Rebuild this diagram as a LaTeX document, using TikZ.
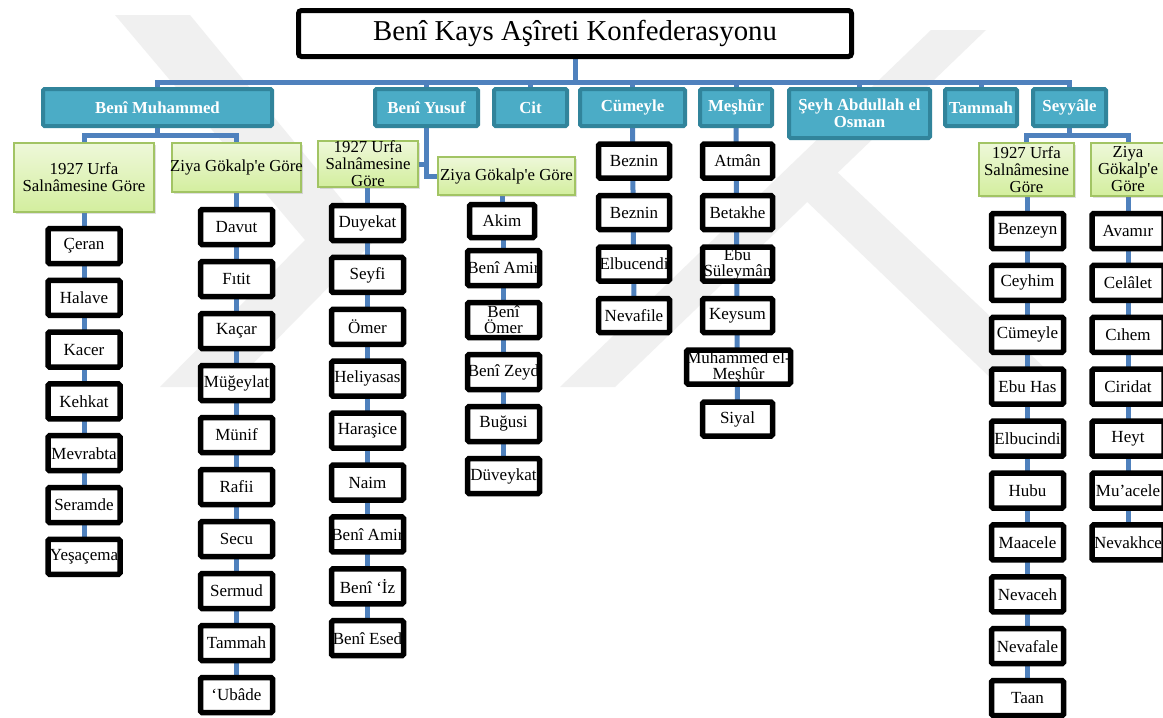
\documentclass[tikz,border=0pt]{standalone}
\usepackage{fontspec}
\setmainfont{Liberation Serif}
\newfontfamily\rawserif{Liberation Serif}
\newcommand\apos{{\rawserif'}}
\usetikzlibrary{shadows}
\pgfdeclarelayer{wmlayer}
\pgfdeclarelayer{connlayer}
\pgfsetlayers{wmlayer,connlayer,main}
\definecolor{conncol}{HTML}{4F81BD}
\definecolor{tealfill}{HTML}{4BACC6}
\definecolor{tealdraw}{HTML}{31849B}
\definecolor{greendraw}{HTML}{A2C464}
\definecolor{greentop}{HTML}{EEF8D9}
\definecolor{greenbot}{HTML}{D3EE9E}
\definecolor{wmgray}{HTML}{F0F0F0}
\tikzset{
  conn/.style={draw=conncol, line width=5pt, line join=miter},
  titlebox/.style={draw=black, line width=5pt, fill=white, rounded corners=3pt, inner sep=0pt},
  titleboxtxt/.style={font=\fontsize{28.8}{30}\selectfont, inner sep=0pt},
  tealbox/.style={draw=tealdraw, fill=tealfill, line width=4pt, rounded corners=1.5pt, inner sep=0pt,
     drop shadow={opacity=0.2, shadow xshift=1.5pt, shadow yshift=-1.5pt}},
  tealboxtxt/.style={font=\bfseries\fontsize{16.8}{17}\selectfont, text=white, align=center, inner sep=0pt},
  greenbox/.style={draw=greendraw, top color=greentop, bottom color=greenbot, line width=2pt, inner sep=0pt,
     drop shadow={opacity=0.25, shadow xshift=2pt, shadow yshift=-2pt}},
  greenboxtxt/.style={font=\fontsize{16.8}{17}\selectfont, align=center, inner sep=0pt},
  leafbox/.style={draw=black, fill=white, line width=5.5pt, rounded corners=1.5pt, inner sep=0pt,
     drop shadow={opacity=0.15, shadow xshift=1.5pt, shadow yshift=-1.5pt}},
  leafboxtxt/.style={font=\fontsize{17}{16}\selectfont, align=center, inner sep=0pt},
}
\newcommand\mkbox[7]{%
  \node[#1, minimum width=#5pt, minimum height=#6pt] (#2) at ({#3},{#4}) {};
  \node[#1txt] (#2t) at (#2.center) {#7};
}
\begin{document}
\begin{tikzpicture}[x=1pt,y=-1pt]
\begin{pgfonlayer}{wmlayer}
  \fill[white] (0,0) rectangle (1163,718);
  \fill[wmgray] (115,15) -- (190,15) -- (375,240) -- (230,387) -- (160,387) -- (305,240) -- cycle;
  \fill[wmgray] (560,387) -- (615,387) -- (986,30) -- (931,30) -- cycle;
  \fill[wmgray] (800,195) -- (835,170) -- (1065,387) -- (1000,387) -- cycle;
\end{pgfonlayer}
\useasboundingbox (0,0) rectangle (1163,718);

% title
\mkbox{titlebox}{title}{575}{33.5}{553}{46}{Benî Kays Aşîreti Konfederasyonu}

% level 1
\mkbox{tealbox}{bm}{157.5}{107.5}{229}{37}{Benî Muhammed}
\mkbox{tealbox}{by}{426.5}{107.5}{103}{37}{Benî Yusuf}
\mkbox{tealbox}{cit}{530.5}{107.5}{73}{37}{Cit}
\mkbox{tealbox}{cum}{632.5}{107.5}{105}{37}{Cümeyle}
\mkbox{tealbox}{mes}{736}{107.5}{72}{37}{Meşhûr}
\mkbox{tealbox}{seyh}{859.5}{113.5}{141}{49}{Şeyh Abdullah el\\Osman}
\mkbox{tealbox}{tam}{981}{107.5}{72}{37}{Tammah}
\mkbox{tealbox}{sey}{1069.5}{107.5}{73}{37}{Seyyâle}

% level 2
\mkbox{greenbox}{bmU}{84}{177.5}{140}{69}{1927 Urfa\\Salnâmesine Göre}
\mkbox{greenbox}{bmZ}{236.5}{167.5}{129}{49}{Ziya Gökalp\apos e Göre}
\mkbox{greenbox}{byU}{368}{164}{100}{46}{1927 Urfa\\Salnâmesine\\Göre}
\mkbox{greenbox}{byZ}{506.5}{176}{137}{38}{Ziya Gökalp\apos e Göre}
\mkbox{greenbox}{seyU}{1026.5}{169.5}{95}{53}{1927 Urfa\\Salnâmesine\\Göre}
\mkbox{greenbox}{seyZ}{1128}{169.5}{74}{53}{Ziya\\Gökalp\apos e\\Göre}

% leaves
\foreach \t [count=\i] in {Çeran,Halave,Kacer,Kehkat,Mevrabta,Seramde,Yeşaçema}
  {\mkbox{leafbox}{bmU-\i}{84}{246+51.8*(\i-1)}{72}{35}{\t}}
\foreach \t [count=\i] in {Davut,Fıtit,Kaçar,Müğeylat,Münif,Rafii,Secu,Sermud,Tammah,‘Ubâde}
  {\mkbox{leafbox}{bmZ-\i}{236.5}{227+52*(\i-1)}{72}{35}{\t}}
\foreach \t [count=\i] in {Duyekat,Seyfi,Ömer,Heliyasas,Haraşice,Naim,Benî Amir,Benî ‘İz,Benî Esed}
  {\mkbox{leafbox}{byU-\i}{367.5}{223+51.9*(\i-1)}{72}{35}{\t}}
\mkbox{leafbox}{byZ-1}{502}{221}{65}{33}{Akim}
\foreach \t [count=\i from 2] in {Benî Amir,{Benî\\Ömer},Benî Zeyd,Buğusi,Düveykat}
  {\mkbox{leafbox}{byZ-\i}{503.5}{268+52*(\i-2)}{72}{35}{\t}}
\foreach \t [count=\i] in {Beznin,Beznin,Elbucendi,Nevafile}
  {\mkbox{leafbox}{cum-\i}{634}{161+51.5*(\i-1)}{71}{34}{\t}}
\mkbox{leafbox}{mes-1}{737.5}{161}{70}{34}{Atmân}
\mkbox{leafbox}{mes-2}{737.5}{212.5}{70}{34}{Betakhe}
\mkbox{leafbox}{mes-3}{737.5}{264}{70}{34}{Ebu\\Süleymân}
\mkbox{leafbox}{mes-4}{737.5}{315.5}{70}{34}{Keysum}
\mkbox{leafbox}{mes-5}{738.5}{367}{104}{34}{Muhammed el-\\Meşhûr}
\mkbox{leafbox}{mes-6}{737.5}{419}{70}{34}{Siyal}
\foreach \t [count=\i] in {Benzeyn,Ceyhim,Cümeyle,Ebu Has,Elbucindi,Hubu,Maacele,Nevaceh,Nevafale,Taan}
  {\mkbox{leafbox}{seyU-\i}{1027.5}{231+51.9*(\i-1)}{72}{35}{\t}}
\foreach \t [count=\i] in {Avamır,Celâlet,Cıhem,Ciridat,Heyt,Mu’acele,Nevakhce}
  {\mkbox{leafbox}{seyZ-\i}{1128}{231+51.9*(\i-1)}{72}{35}{\t}}

\coordinate (bus) at (577,82);
\coordinate (bmbus) at (157.5,135);
\coordinate (seybus) at (1069.5,135);

\begin{pgfonlayer}{connlayer}
  \draw[conn] (title.south) -- (title.south |- bus);
  \draw[conn] (bm.north) -- (bm.north |- bus) -- (sey.north |- bus) -- (sey.north);
  \foreach \n in {by,cit,cum,mes,seyh,tam}
    {\draw[conn] (\n.north |- bus) -- (\n.north);}
  % Beni Muhammed
  \draw[conn] (bm.south) -- (bmbus);
  \draw[conn] (bmU.north) -- (bmU.north |- bmbus) -- (bmZ.north |- bmbus) -- (bmZ.north);
  \draw[conn] (bmU-1 |- bmU.south) -- (bmU-7.center);
  \draw[conn] (bmZ-1 |- bmZ.south) -- (bmZ-10.center);
  % Beni Yusuf
  \draw[conn] (by.south) |- (byZ.west);
  \draw[conn] (byU.east) -- (by.south |- byU.east);
  \draw[conn] (byU-1 |- byU.south) -- (byU-9.center);
  \draw[conn] (byZ-1 |- byZ.south) -- (byZ-1.center);
  \draw[conn] (byZ-2 |- byZ-1.center) -- (byZ-6.center);
  % Cumeyle, Meshur
  \draw[conn] (cum.south) -- (cum-4.center);
  \draw[conn] (mes.south) -- (mes-6.center);
  % Seyyale
  \draw[conn] (sey.south) -- (seybus);
  \draw[conn] (seyU.north) -- (seyU.north |- seybus) -- (seyZ.north |- seybus) -- (seyZ.north);
  \draw[conn] (seyU-1 |- seyU.south) -- (seyU-10.center);
  \draw[conn] (seyZ-1 |- seyZ.south) -- (seyZ-7.center);
\end{pgfonlayer}
\end{tikzpicture}
\end{document}
